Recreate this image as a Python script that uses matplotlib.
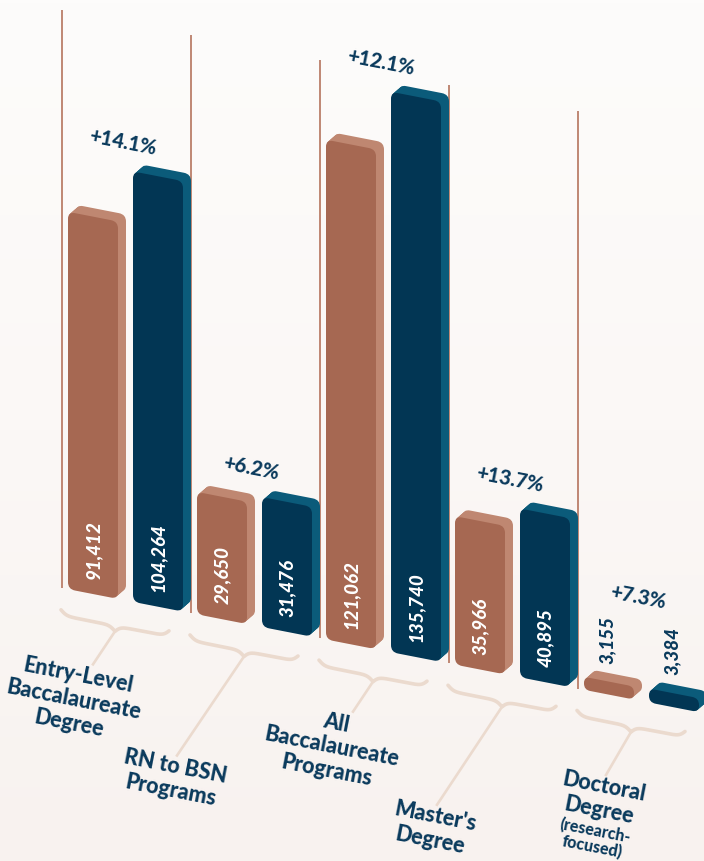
import numpy as np
import matplotlib.pyplot as plt
from matplotlib.patches import FancyBboxPatch
from matplotlib.transforms import Affine2D, IdentityTransform
from matplotlib.colors import LinearSegmentedColormap

# data
categories = ["Entry-Level\nBaccalaureate\nDegree", "RN to BSN\nPrograms",
              "All\nBaccalaureate\nPrograms", "Master's\nDegree", "Doctoral\nDegree"]
sub_labels = ["", "", "", "", "(research-\nfocused)"]
enrolled_prev = [91412, 29650, 121062, 35966, 3155]
enrolled_curr = [104264, 31476, 135740, 40895, 3384]

ORANGE, ORANGE_SIDE = "#A66852", "#BF8771"
NAVY, NAVY_SIDE = "#023654", "#0B5B7A"
INK = "#0A3A5C"
RULE = "#BA7E69"
BRACE = "#EBDACE"
plt.rcParams['font.family'] = ['Lato', 'DejaVu Sans']
WEIGHT = 'black'

W, H = 704, 861
fig = plt.figure(figsize=(W / 100, H / 100), dpi=100)

# soft vertical background gradient
bg = fig.add_axes([0, 0, 1, 1], zorder=-1)
cmap = LinearSegmentedColormap.from_list("bg", ["#FDFCFB", "#FBF8F6", "#F8F2EF"])
bg.imshow(np.linspace(0, 1, 256).reshape(-1, 1), aspect='auto', cmap=cmap, extent=[0, 1, 0, 1])
bg.axis('off')

# main axes, then sheared so the baseline runs downhill
left_px, base_px, width_px, height_px = 62, 273, 645, 578
ax = fig.add_axes([left_px / W, base_px / H, width_px / W, height_px / H])
ymax = 140000
ax.set_xlim(-0.5, 4.5)
ax.set_ylim(0, ymax)
ax.axis('off')

slope = 0.195
angle = np.degrees(np.arctan(slope))
shear = Affine2D().translate(-left_px, 0).skew(0, -np.arctan(slope)).translate(left_px, 0)
T = ax.transData + shear
px_x = width_px / 5.0          # pixels per group
px_v = height_px / ymax        # pixels per unit value


def shifted(dx, dy):
    return T + Affine2D().translate(dx, dy)


# group separators
for i in range(len(categories)):
    ax.plot([i - 0.5, i - 0.5], [0, ymax], transform=T, color=RULE, lw=1.3,
            zorder=1, clip_on=False, solid_capstyle='butt')

bar_w = 50 / px_x
bar_left = [-0.5 + 6 / px_x, -0.5 + 71 / px_x]
depth = (8, 7)
aspect = px_x / px_v

series = [(enrolled_prev, ORANGE, ORANGE_SIDE), (enrolled_curr, NAVY, NAVY_SIDE)]
for i in range(len(categories)):
    for j, (vals, face, side) in enumerate(series):
        v = vals[i]
        x0 = i + bar_left[j]
        r = min(7, v * px_v / 2 - 0.3) / px_x
        style = f"round,pad=0,rounding_size={r}"
        for k in range(1, 11):
            ax.add_patch(FancyBboxPatch((x0, 0), bar_w, v, boxstyle=style, mutation_aspect=aspect,
                                        transform=shifted(depth[0] * k / 10, depth[1] * k / 10),
                                        fc=side, ec='none', zorder=2, clip_on=False))
        ax.add_patch(FancyBboxPatch((x0, 0), bar_w, v, boxstyle=style, mutation_aspect=aspect,
                                    transform=T, fc=face, ec='none', zorder=3, clip_on=False))
        cx = x0 + bar_w / 2
        if v > 10000:
            ax.text(cx, 0, f"{v:,}", transform=shifted(0, 15), color='white', rotation=90,
                    ha='left', va='center', rotation_mode='anchor', fontsize=13.5,
                    fontweight=WEIGHT, style='italic', zorder=4)
        else:
            ax.text(cx, v, f"{v:,}", transform=shifted(-2, 18), color=INK, rotation=90,
                    ha='left', va='center', rotation_mode='anchor', fontsize=13.5,
                    fontweight=WEIGHT, style='italic', zorder=4)

    # percent change label
    a, b = enrolled_prev[i], enrolled_curr[i]
    top = max(a, b)
    lift = 28 + (62 if top < 10000 else 0)
    ax.text(i, top, f"+{(b - a) / a * 100:.1f}%", transform=shifted(-4, lift), color=INK,
            rotation=-angle, ha='center', va='center', rotation_mode='anchor',
            fontsize=14.5, fontweight=WEIGHT, zorder=4)

# braces, leader lines and category labels
leader_dy = [33, 99, 30, 98, 43]
leader_dx = [-22, -67, -20, -65, -25]
label_shift = [-13, 0, -15, 0, 0]
t = np.linspace(0, 0.5, 150)
beta = 38
half = 1 / (1 + np.exp(-beta * t)) + 1 / (1 + np.exp(-beta * (t - 0.5)))
h = np.concatenate([half, half[-2::-1]])
brace_px = -22 - (h - 0.5) * 11

for i, cat in enumerate(categories):
    bl = i - 0.5 - 1 / px_x
    br = i - 0.5 + 107 / px_x
    xs = np.linspace(bl, br, len(h))
    ax.plot(xs, brace_px / px_v, transform=T, color=BRACE, lw=2.6,
            solid_capstyle='round', zorder=1, clip_on=False)
    tip = ((bl + br) / 2, -33 / px_v)
    sx, sy = T.transform(tip)
    ex, ey = sx + leader_dx[i], sy - leader_dy[i]
    ax.plot([sx, ex], [sy, ey], transform=IdentityTransform(), color=BRACE, lw=1.9,
            zorder=1, clip_on=False)
    ax.text(tip[0], tip[1], cat, transform=shifted(leader_dx[i] + label_shift[i], -leader_dy[i] - 1),
            color=INK, rotation=-angle, ha='center', va='top', rotation_mode='anchor',
            multialignment='center', fontsize=15.5, fontweight=WEIGHT, linespacing=1.2)
    if sub_labels[i]:
        n_lines = cat.count("\n") + 1
        d = 24 * n_lines
        ox = leader_dx[i] + label_shift[i] - np.sin(np.radians(angle)) * d
        oy = -leader_dy[i] - 1 - np.cos(np.radians(angle)) * d
        ax.text(tip[0], tip[1], sub_labels[i], transform=shifted(ox, oy),
                color=INK, rotation=-angle, ha='center', va='top', rotation_mode='anchor',
                multialignment='center', fontsize=11.5, fontweight=WEIGHT, linespacing=1.0)

fig.savefig("out.png", dpi=100)
